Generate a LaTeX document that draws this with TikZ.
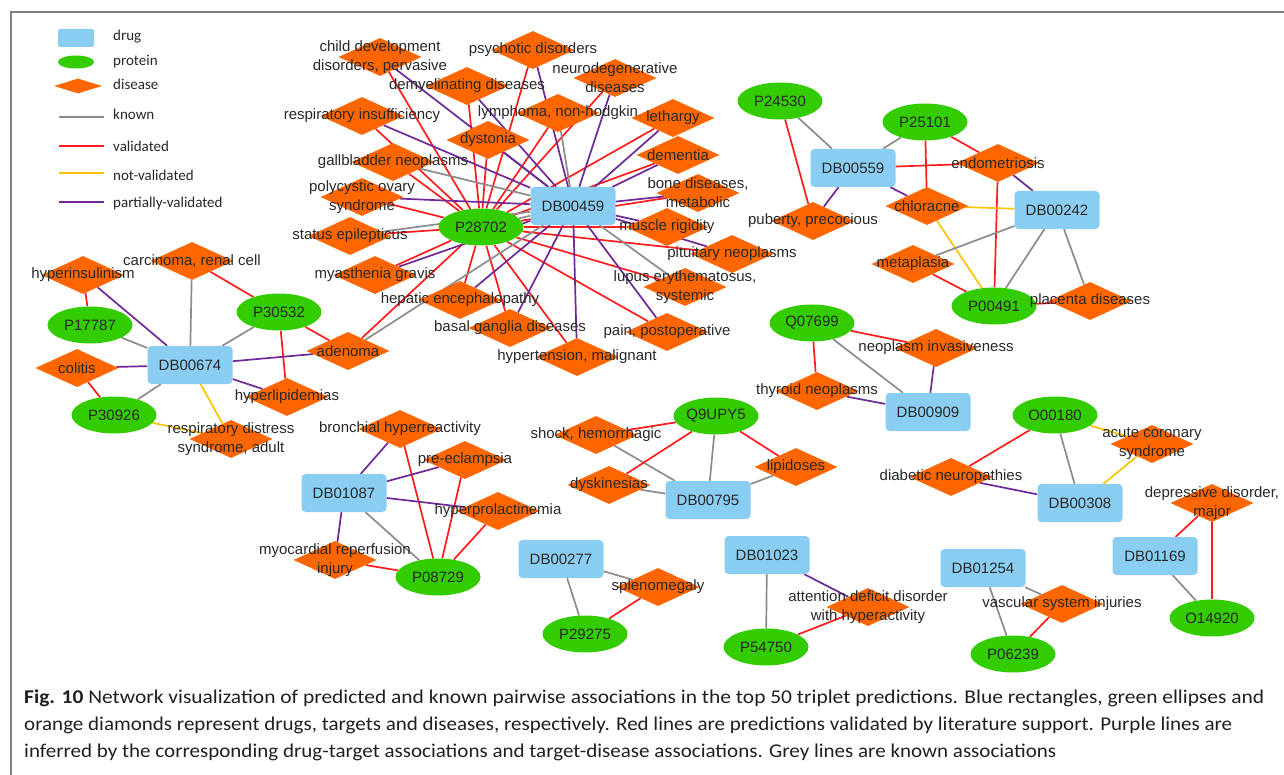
\documentclass[tikz,border=0pt]{standalone}
\usepackage{fontspec}
\usepackage{graphicx}
\setmainfont{Liberation Sans}
\newfontfamily\legfont{Carlito}
\usetikzlibrary{shapes.geometric}
\definecolor{drugblue}{RGB}{137,206,242}
\definecolor{protgreen}{RGB}{51,204,0}
\definecolor{disorange}{RGB}{255,102,0}
\definecolor{kgrey}{RGB}{140,140,140}
\definecolor{vred}{RGB}{255,28,28}
\definecolor{nyellow}{RGB}{255,196,0}
\definecolor{ppurple}{RGB}{112,40,150}
\definecolor{txt}{RGB}{40,40,40}
\definecolor{framegrey}{RGB}{130,130,130}
\definecolor{captxt}{RGB}{35,31,32}
\pgfdeclarelayer{back}
\pgfdeclarelayer{bg}
\pgfsetlayers{back,bg,main}
\newcommand\labfont{\fontsize{15}{19}\selectfont}
\newcommand\dnode[3]{\node[dis] (#1) at (#2) {}; \node[dislab] (#1l) at (#1.center) {#3};}
\begin{document}
\begin{tikzpicture}[x=1pt,y=-1pt,
  drug/.style={rectangle, fill=drugblue, rounded corners=4pt, minimum width=85pt, minimum height=38pt, inner sep=0pt, font=\labfont, text=txt},
  prot/.style={ellipse, fill=protgreen, minimum width=85pt, minimum height=37pt, inner sep=0pt, font=\labfont, text=txt},
  dis/.style={diamond, fill=disorange, minimum width=83pt, minimum height=38pt, inner sep=0pt},
  dislab/.style={font=\labfont, text=txt, align=center, inner sep=0pt},
  edge/.style={line width=1.7pt},
  known/.style={edge, draw=kgrey},
  val/.style={edge, draw=vred},
  notv/.style={edge, draw=nyellow},
  part/.style={edge, draw=ppurple},
  legtext/.style={font=\legfont\fontsize{15}{18}\selectfont, text=txt, anchor=base west, inner sep=0pt},
  capn/.style={font=\legfont\fontsize{19.5}{24}\selectfont, text=captxt, anchor=base west, inner sep=0pt}
]
\useasboundingbox (0,0) rectangle (1284,775);
\begin{pgfonlayer}{back}
\fill[white] (0,0) rectangle (1284,775);
\end{pgfonlayer}
\draw[framegrey, line width=1.3pt] (11,775) -- (11,12) -- (1284,12);

% legend
\node[drug, minimum width=36pt, minimum height=18pt, rounded corners=2pt] (lgdrug) at (76,38) {};
\node[prot, minimum width=36pt, minimum height=13pt] (lgprot) at (76,62) {};
\node[dis, minimum width=48pt, minimum height=15pt] (lgdis) at (78,86) {};
\coordinate (lk1) at (59,117); \coordinate (lk2) at (104,117);
\coordinate (lv1) at (59,146); \coordinate (lv2) at (104,146);
\coordinate (ln1) at (59,173); \coordinate (ln2) at (104,173);
\coordinate (lp1) at (59,202); \coordinate (lp2) at (104,202);
\draw[known] (lk1) -- (lk2);
\draw[val] (lv1) -- (lv2);
\draw[notv] (ln1) -- (ln2);
\draw[part] (lp1) -- (lp2);
\node[legtext] (tdrug) at (113,41) {drug};
\node[legtext] (tprot) at (113,65.5) {protein};
\node[legtext] (tdis) at (113,89.5) {disease};
\node[legtext] (tknown) at (113,119.5) {known};
\node[legtext] (tval) at (113,151.5) {validated};
\node[legtext] (tnotv) at (113,180.5) {not-validated};
\node[legtext] (tpart) at (113,207.5) {partially-validated};

% hub
\node[prot] (P28702) at (481,227) {P28702};
\node[drug] (DB00459) at (573,206) {DB00459};
\dnode{cdd}{380,57}{child development\\disorders, pervasive}
\dnode{psy}{533,50}{psychotic disorders}
\dnode{neu}{615,78}{neurodegenerative\\diseases}
\dnode{dem}{467,86}{demyelinating diseases}
\dnode{res}{362,116}{respiratory insufficiency}
\dnode{lym}{558,113}{lymphoma, non-hodgkin}
\dnode{let}{673,118}{lethargy}
\dnode{dys}{488,140}{dystonia}
\dnode{dmt}{678,155}{dementia}
\dnode{gal}{393,162}{gallbladder neoplasms}
\dnode{bon}{698,193}{bone diseases,\\metabolic}
\dnode{pol}{362,197}{polycystic ovary\\syndrome}
\dnode{sta}{350,236}{status epilepticus}
\dnode{mus}{667,227}{muscle rigidity}
\dnode{pit}{732,254}{pituitary neoplasms}
\dnode{mya}{375,275}{myasthenia gravis}
\dnode{lup}{685,287}{lupus erythematosus,\\systemic}
\dnode{hep}{460,300}{hepatic encephalopathy}
\dnode{bas}{510,328}{basal ganglia diseases}
\dnode{pai}{667,332}{pain, postoperative}
\dnode{hyt}{577,357}{hypertension, malignant}
\dnode{ade}{348,351}{adenoma}

% left cluster
\node[drug] (DB00674) at (190,365) {DB00674};
\node[prot] (P17787) at (90,325) {P17787};
\node[prot] (P30532) at (279,312) {P30532};
\node[prot] (P30926) at (114,415) {P30926};
\dnode{hin}{83,275}{hyperinsulinism}
\dnode{car}{192,261}{carcinoma, renal cell}
\dnode{col}{77,368}{colitis}
\dnode{hli}{287,397}{hyperlipidemias}
\dnode{rds}{231,439}{respiratory distress\\syndrome, adult}

% upper right cluster
\node[prot] (P24530) at (780,101) {P24530};
\node[prot] (P25101) at (925,122) {P25101};
\node[drug] (DB00559) at (853,168) {DB00559};
\node[drug] (DB00242) at (1057,210) {DB00242};
\node[prot] (P00491) at (994,306) {P00491};
\dnode{end}{998,163}{endometriosis}
\dnode{chl}{927,206}{chloracne}
\dnode{pub}{813,221}{puberty, precocious}
\dnode{met}{913,264}{metaplasia}
\dnode{pla}{1090,301}{placenta diseases}

% middle right
\node[prot] (Q07699) at (812,323) {Q07699};
\node[drug] (DB00909) at (928,412) {DB00909};
\dnode{nin}{936,348}{neoplasm invasiveness}
\dnode{thy}{817,391}{thyroid neoplasms}

\node[prot] (Q9UPY5) at (716,416) {Q9UPY5};
\node[drug] (DB00795) at (708,500) {DB00795};
\dnode{sho}{596,435}{shock, hemorrhagic}
\dnode{dyk}{609,485}{dyskinesias}
\dnode{lip}{796,467}{lipidoses}

\node[prot] (O00180) at (1055,415) {O00180};
\node[drug] (DB00308) at (1080,503) {DB00308};
\dnode{acs}{1152,444}{acute coronary\\syndrome}
\dnode{dia}{951,477}{diabetic neuropathies}

\node[drug] (DB01169) at (1155,556) {DB01169};
\node[prot] (O14920) at (1212,618) {O14920};
\dnode{dep}{1212,503}{depressive disorder,\\major}

% lower left
\node[drug] (DB01087) at (344,493) {DB01087};
\node[prot] (P08729) at (438,577) {P08729};
\dnode{bro}{400,429}{bronchial hyperreactivity}
\dnode{pre}{465,460}{pre-eclampsia}
\dnode{hpr}{498,511}{hyperprolactinemia}
\dnode{myo}{335,560}{myocardial reperfusion\\injury}

\node[drug] (DB00277) at (561,559) {DB00277};
\node[prot] (P29275) at (585,634) {P29275};
\dnode{spl}{658,587}{splenomegaly}

\node[drug] (DB01023) at (767,555) {DB01023};
\node[prot] (P54750) at (766,647) {P54750};
\dnode{att}{868,607}{attention deficit disorder\\with hyperactivity}

\node[drug] (DB01254) at (983,568) {DB01254};
\node[prot] (P06239) at (1013,654) {P06239};
\dnode{vas}{1062,604}{vascular system injuries}

% caption
\node[capn] (cap1) at (24,703) {\resizebox{1240pt}{\height}{\textbf{Fig. 10} Network visualization of predicted and known pairwise associations in the top 50 triplet predictions. Blue rectangles, green ellipses and}};
\node[capn] (cap2) at (24,730) {\resizebox{1208pt}{\height}{orange diamonds represent drugs, targets and diseases, respectively. Red lines are predictions validated by literature support. Purple lines are}};
\node[capn] (cap3) at (24,757) {\resizebox{1032pt}{\height}{inferred by the corresponding drug-target associations and target-disease associations. Grey lines are known associations}};

\begin{pgfonlayer}{bg}
\foreach \nd in {cdd,psy,neu,dem,res,lym,let,dys,dmt,gal,bon,pol,sta,mus,pit,mya,lup,hep,bas,pai,hyt,ade}
  \draw[val] (P28702) -- (\nd);
\foreach \nd in {cdd,psy,neu,dem,res,let,dys,dmt,bon,pol,mus,pit,mya,hep,bas,pai,hyt}
  \draw[part] (DB00459) -- (\nd);
\foreach \nd in {gal,sta,lym,lup,ade}
  \draw[known] (DB00459) -- (\nd);
\draw[known] (P28702) -- (DB00459);
% left
\draw[val] (hin) -- (P17787);
\draw[part] (hin) -- (DB00674);
\draw[known] (car) -- (DB00674);
\draw[val] (car) -- (P30532);
\draw[known] (P17787) -- (DB00674);
\draw[known] (P30532) -- (DB00674);
\draw[val] (P30532) -- (ade);
\draw[val] (P30532) -- (hli);
\draw[part] (DB00674) -- (ade);
\draw[part] (DB00674) -- (col);
\draw[val] (col) -- (P30926);
\draw[known] (DB00674) -- (P30926);
\draw[part] (DB00674) -- (hli);
\draw[notv] (DB00674) -- (rds);
\draw[notv] (P30926) -- (rds);
% upper right
\draw[known] (P24530) -- (DB00559);
\draw[val] (P24530) -- (pub);
\draw[part] (DB00559) -- (pub);
\draw[known] (P25101) -- (DB00559);
\draw[val] (P25101) -- (chl);
\draw[val] (P25101) -- (end);
\draw[val] (DB00559) -- (end);
\draw[part] (DB00559) -- (chl);
\draw[part] (end) -- (DB00242);
\draw[val] (end) -- (P00491);
\draw[notv] (chl) -- (DB00242);
\draw[notv] (chl) -- (P00491);
\draw[known] (DB00242) -- (met);
\draw[known] (DB00242) -- (P00491);
\draw[known] (DB00242) -- (pla);
\draw[val] (met) -- (P00491);
\draw[val] (P00491) -- (pla);
% middle right
\draw[val] (Q07699) -- (nin);
\draw[val] (Q07699) -- (thy);
\draw[known] (Q07699) -- (DB00909);
\draw[part] (nin) -- (DB00909);
\draw[part] (thy) -- (DB00909);
\draw[val] (Q9UPY5) -- (lip);
\draw[known] (Q9UPY5) -- (DB00795);
\draw[known] (lip) -- (DB00795);
\draw[val] (sho) -- (Q9UPY5);
\draw[known] (sho) -- (DB00795);
\draw[val] (dyk) -- (Q9UPY5);
\draw[known] (dyk) -- (DB00795);
\draw[val] (O00180) -- (dia);
\draw[known] (O00180) -- (DB00308);
\draw[notv] (O00180) -- (acs);
\draw[notv] (acs) -- (DB00308);
\draw[part] (dia) -- (DB00308);
\draw[val] (dep) -- (DB01169);
\draw[val] (dep) -- (O14920);
\draw[known] (DB01169) -- (O14920);
% lower
\draw[part] (bro) -- (DB01087);
\draw[val] (bro) -- (P08729);
\draw[part] (pre) -- (DB01087);
\draw[val] (pre) -- (P08729);
\draw[part] (DB01087) -- (hpr);
\draw[val] (hpr) -- (P08729);
\draw[part] (DB01087) -- (myo);
\draw[known] (DB01087) -- (P08729);
\draw[val] (myo) -- (P08729);
\draw[known] (DB00277) -- (P29275);
\draw[known] (DB00277) -- (spl);
\draw[val] (spl) -- (P29275);
\draw[known] (DB01023) -- (P54750);
\draw[part] (DB01023) -- (att);
\draw[val] (att) -- (P54750);
\draw[known] (DB01254) -- (P06239);
\draw[known] (DB01254) -- (vas);
\draw[val] (vas) -- (P06239);
\end{pgfonlayer}
\end{tikzpicture}
\end{document}
